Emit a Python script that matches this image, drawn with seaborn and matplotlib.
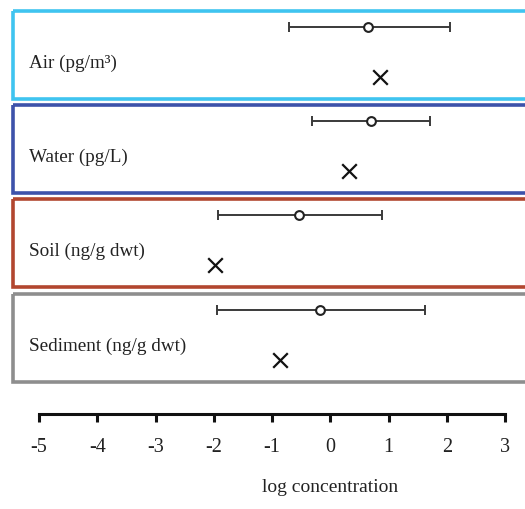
import matplotlib
matplotlib.use("Agg")
import matplotlib.pyplot as plt
from matplotlib.patches import Rectangle
import seaborn as sns
import pandas as pd

# Media, summary statistics of log concentrations
media = ["Air (pg/m³)", "Water (pg/L)", "Soil (ng/g dwt)", "Sediment (ng/g dwt)"]
mean_log = [0.65, 0.70, -0.53, -0.17]
low_log = [-0.71, -0.31, -1.93, -1.94]
high_log = [2.05, 1.71, 0.88, 1.63]
predicted_log = [0.85, 0.32, -1.98, -0.86]
box_colors = ["#3fc4f0", "#3d52aa", "#b2462f", "#8e8e8e"]

tick_values = [-5, -4, -3, -2, -1, 0, 1, 2, 3]

sns.set_theme(style="white")
plt.rcParams["font.family"] = ["Liberation Serif", "DejaVu Serif"]

W, H = 525, 509
fig = plt.figure(figsize=(W / 100, H / 100), dpi=100)
ax = fig.add_axes([0, 0, 1, 1])

# x in log units, y in a top-down layout scale
px_per_unit = 58.25
x_left = -5 - 39 / px_per_unit
x_right = -5 + (W - 39) / px_per_unit
ax.set_xlim(x_left, x_right)
ax.set_ylim(H, 0)

panel_top = [11, 105, 199, 294]
panel_h = 88

rows = []
for i, name in enumerate(media):
    top = panel_top[i]
    rows.append({"medium": name, "kind": "observed", "x": mean_log[i], "y": top + 16})
    rows.append({"medium": name, "kind": "predicted", "x": predicted_log[i], "y": top + 66})
df = pd.DataFrame(rows)

for i, name in enumerate(media):
    top = panel_top[i]
    ax.add_patch(Rectangle((-5 - 26 / px_per_unit, top), 10, panel_h,
                           facecolor="none", edgecolor=box_colors[i], lw=2.6,
                           zorder=1))
    ax.text(-5 - 10 / px_per_unit, top + 52, name, fontsize=13.8,
            ha="left", va="center", color="#222222")

obs = df[df["kind"] == "observed"]
ax.errorbar(obs["x"], obs["y"],
            xerr=[[m - l for m, l in zip(mean_log, low_log)],
                  [h - m for m, h in zip(mean_log, high_log)]],
            fmt="none", ecolor="#3a3a3a", elinewidth=1.4, capsize=3.5,
            capthick=1.4, zorder=2)
sns.scatterplot(data=obs, x="x", y="y", ax=ax, marker="o", s=40,
                facecolor="white", edgecolor="#222222", linewidth=1.5,
                zorder=3, legend=False)
pred = df[df["kind"] == "predicted"]
sns.scatterplot(data=pred, x="x", y="y", ax=ax, marker="x", s=110,
                color="#111111", linewidth=1.6, zorder=3, legend=False)

# bottom axis
for s in ["top", "right", "left"]:
    ax.spines[s].set_visible(False)
ax.spines["bottom"].set_position(("data", 414))
ax.spines["bottom"].set_bounds(-5, 3)
ax.spines["bottom"].set_linewidth(2.2)
ax.spines["bottom"].set_color("#111111")
ax.set_xticks(tick_values)
ax.set_xticklabels([str(t) for t in tick_values])
ax.tick_params(axis="x", direction="out", length=6, width=2.2, color="#111111",
               labelsize=14.5, pad=11, labelcolor="#222222", bottom=True)
ax.set_yticks([])
ax.set_xlabel("")
ax.set_ylabel("")
ax.text(0, 488, "log concentration", fontsize=14, ha="center", va="center",
        color="#222222")

fig.savefig("out.png", dpi=100)
